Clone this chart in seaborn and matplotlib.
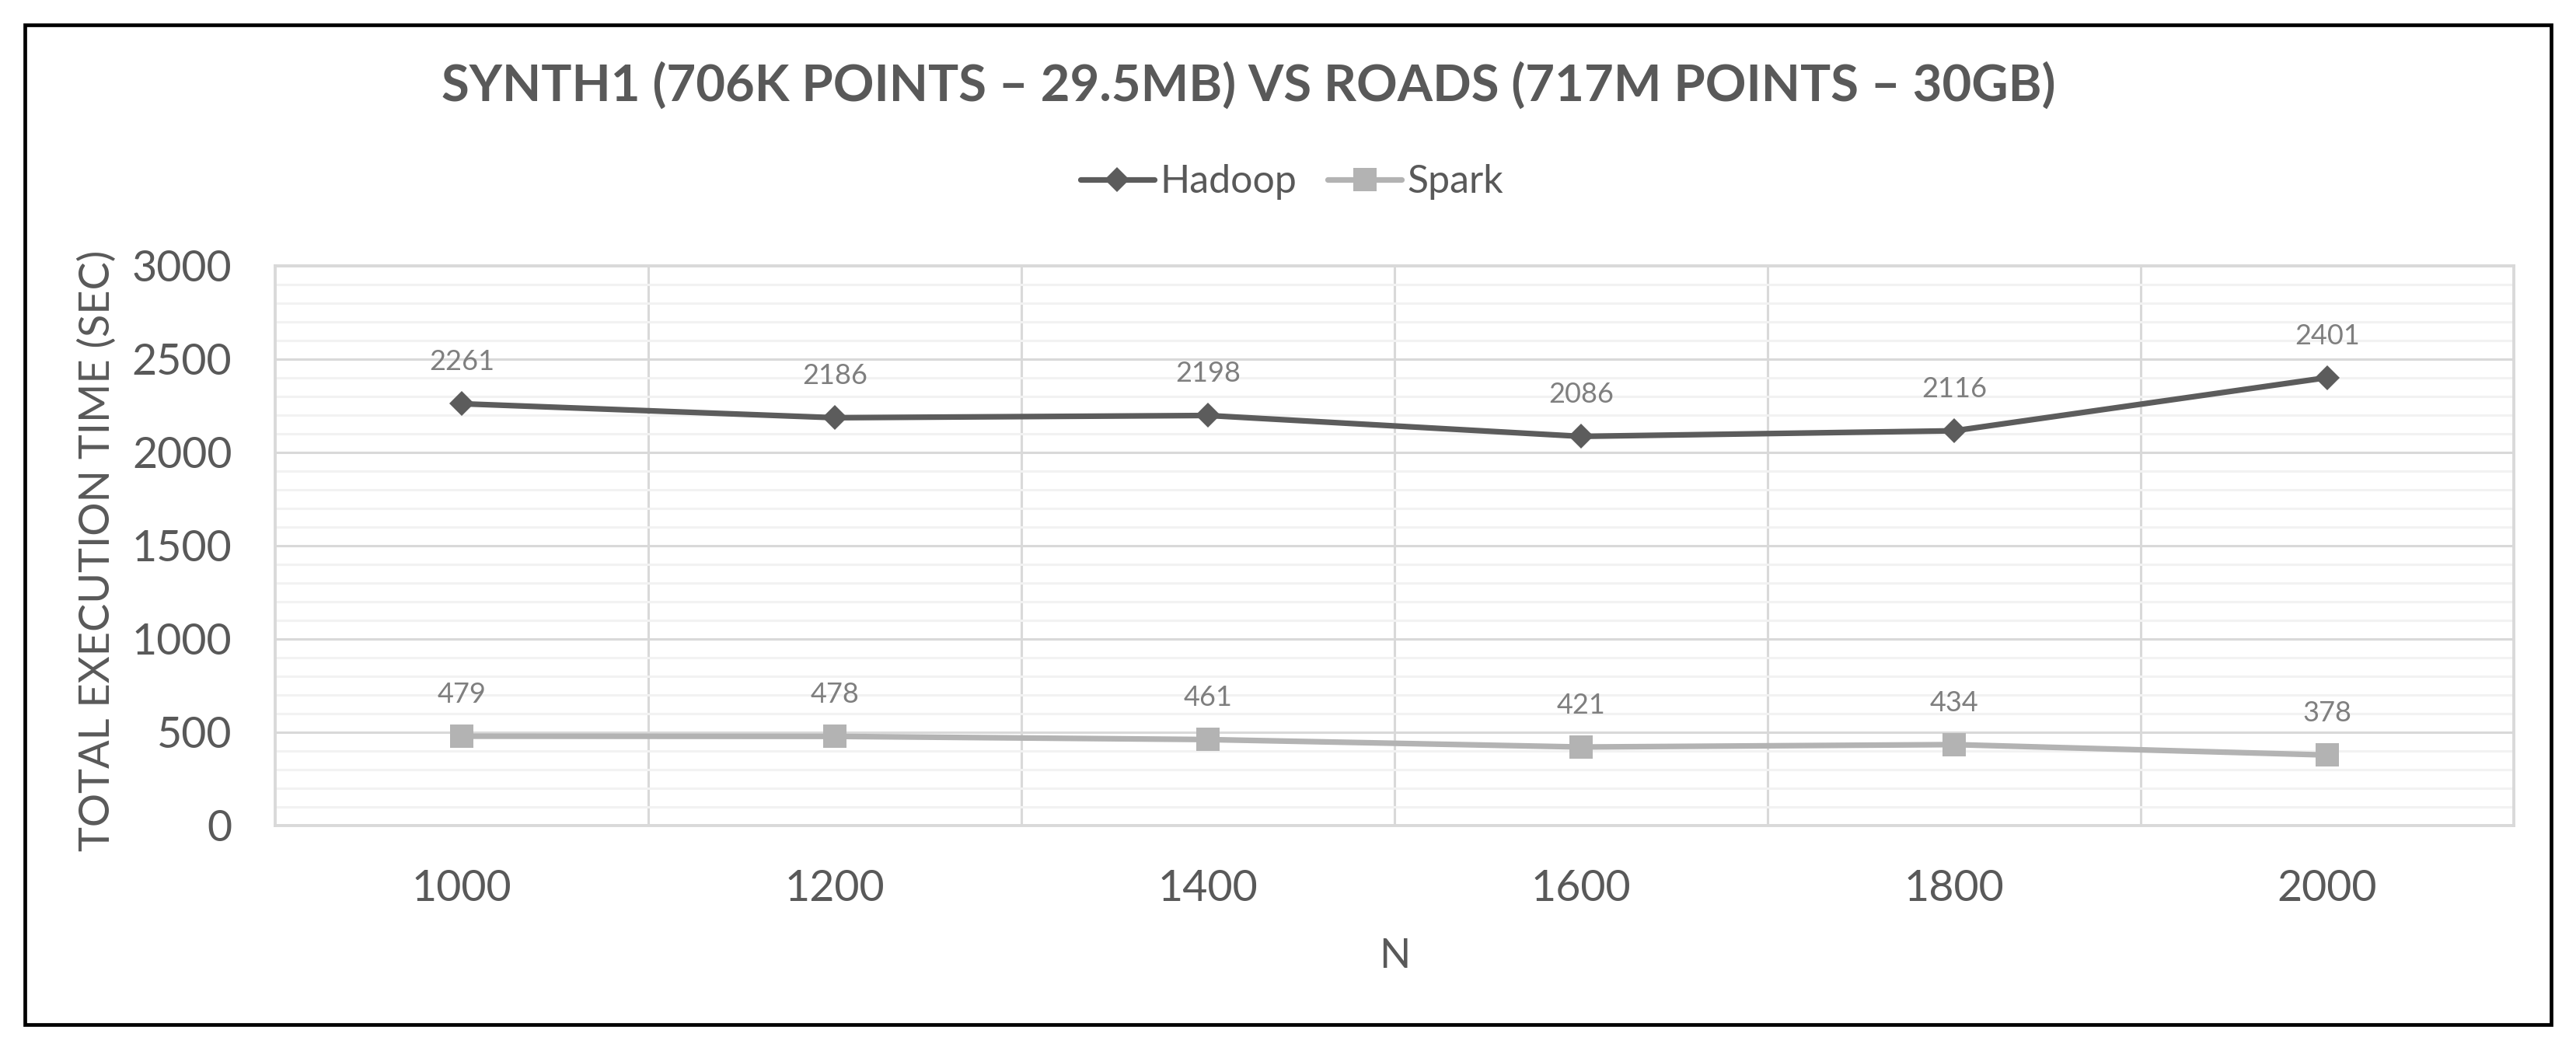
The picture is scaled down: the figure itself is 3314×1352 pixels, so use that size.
import pandas as pd
import seaborn as sns
import matplotlib.pyplot as plt
from matplotlib.lines import Line2D
from matplotlib.patches import Rectangle
from matplotlib.ticker import MultipleLocator, FixedLocator

# dados
n_vals = [1000, 1200, 1400, 1600, 1800, 2000]
hadoop = [2261, 2186, 2198, 2086, 2116, 2401]
spark = [479, 478, 461, 421, 434, 378]
series = ['Hadoop', 'Spark']

df = pd.DataFrame({
    'N': n_vals * 2,
    'tempo': hadoop + spark,
    'sistema': ['Hadoop'] * len(n_vals) + ['Spark'] * len(n_vals),
})

cores = {'Hadoop': '#5c5c5c', 'Spark': '#b3b3b3'}
marcadores = {'Hadoop': 'D', 'Spark': 's'}
tam_marc = {'Hadoop': 8.0, 'Spark': 10.5}
texto = '#595959'

sns.set_style('white')
plt.rcParams['font.family'] = ['Lato', 'DejaVu Sans']

W, H = 3314, 1352
fig = plt.figure(figsize=(W / 200, H / 200), dpi=200)
ax = fig.add_axes([354 / W, 1 - 1062 / H, (3234 - 354) / W, (1062 - 342) / H])

sns.pointplot(data=df, x='N', y='tempo', hue='sistema', palette=cores,
              markers=[marcadores[s] for s in series], linestyles=['-', '-'],
              errorbar=None, legend=False, ax=ax, linewidth=2.6)

# ajustar tamanho dos marcadores
for linha, s in zip(ax.lines, series):
    linha.set_markersize(tam_marc[s])
    linha.set_markeredgewidth(0)
    linha.set_zorder(3)

# rótulos de dados
for s, valores in zip(series, [hadoop, spark]):
    for i, v in enumerate(valores):
        ax.annotate(str(v), (i, v), xytext=(0, 15.5), textcoords='offset points',
                    ha='center', va='baseline', fontsize=13, color='#7f7f7f')

# eixos e grades
ax.set_ylim(0, 3000)
ax.set_xlim(-0.5, len(n_vals) - 0.5)
ax.yaxis.set_major_locator(MultipleLocator(500))
ax.yaxis.set_minor_locator(MultipleLocator(100))
ax.xaxis.set_minor_locator(FixedLocator([i + 0.5 for i in range(len(n_vals) - 1)]))
ax.set_axisbelow(True)
ax.grid(which='minor', axis='y', color='#f2f2f2', linewidth=1.1)
ax.grid(which='major', axis='y', color='#d9d9d9', linewidth=1.1)
ax.grid(which='minor', axis='x', color='#d9d9d9', linewidth=1.1)
for sp in ax.spines.values():
    sp.set_color('#d9d9d9')
    sp.set_linewidth(1.4)
ax.tick_params(which='both', length=0)
ax.tick_params(axis='y', labelsize=20, labelcolor=texto, pad=20)
ax.tick_params(axis='x', labelsize=20, labelcolor=texto, pad=20)

ax.set_xlabel('N', fontsize=19, color=texto, labelpad=14)
ax.set_ylabel('')
fig.text(125 / W, 1 - 708 / H, 'TOTAL EXECUTION TIME (SEC)', rotation=90,
         ha='center', va='center', fontsize=19.5, color=texto)

# título
fig.text(1606 / W, 1 - 110 / H, 'SYNTH1 (706K POINTS – 29.5MB) VS ROADS (717M POINTS – 30GB)',
         ha='center', va='center', fontsize=23.5, fontweight='bold', color=texto)

# legenda
handles = [Line2D([], [], color=cores[s], marker=marcadores[s], markersize=tam_marc[s],
                  markeredgewidth=0, linewidth=2.6) for s in series]
fig.legend(handles, series, loc='center', bbox_to_anchor=(1662 / W, 1 - 234 / H),
           ncol=2, frameon=False, fontsize=18, labelcolor=texto,
           handlelength=1.9, handletextpad=0.15, columnspacing=0.8)

# moldura externa
fig.patches.append(Rectangle((32 / W, 1 - 1318 / H), (3282 - 32) / W, (1318 - 32) / H,
                             transform=fig.transFigure, fill=False,
                             edgecolor='black', linewidth=1.7))

plt.savefig('out.png', dpi=200)
